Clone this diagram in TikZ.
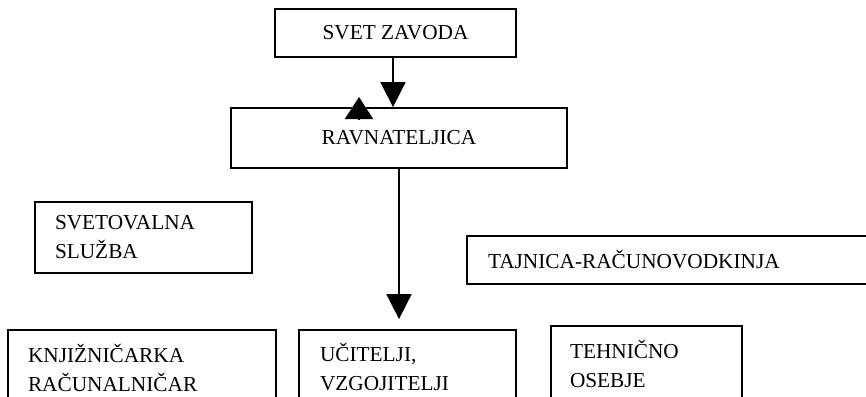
\documentclass[tikz,border=0pt]{standalone}
\usepackage{fontspec}
\setmainfont{Liberation Serif}
\usetikzlibrary{arrows.meta,calc}

\begin{document}
\begin{tikzpicture}[x=1pt, y=-1pt,
  box/.style={draw, line width=1.8pt, rectangle, inner sep=0pt, font=\fontsize{21.3}{29}\selectfont},
  lbox/.style={box, align=left},
  tip/.style={-{Triangle[length=25pt, width=25pt]}, line width=1.8pt, black}]
\useasboundingbox (0,0) rectangle (866,396);
\clip (0,0) rectangle (866,396);

\node [box, minimum width=241pt, minimum height=48pt] (svet) at (395.5, 33) {SVET ZAVODA};
\node [box, minimum width=336pt, minimum height=60pt] (rav) at (399, 138) {RAVNATELJICA};

\node [lbox, minimum width=217pt, minimum height=71pt, inner xsep=20pt, text width=177pt] (svetov) at (143.5, 237.5) {SVETOVALNA\\SLUŽBA};
\node [lbox, minimum width=413pt, minimum height=48pt, inner xsep=21pt, text width=371pt] (tajn) at (673.5, 260) {TAJNICA-RAČUNOVODKINJA};

\node [lbox, minimum width=268pt, minimum height=75pt, inner xsep=20pt, text width=228pt] (knjiz) at (142, 367.5) {KNJIŽNIČARKA\\RAČUNALNIČAR};
\node [lbox, minimum width=217pt, minimum height=75pt, inner xsep=21pt, text width=175pt] (ucit) at (407.5, 367.5) {UČITELJI,\\VZGOJITELJI};
\node [lbox, minimum width=191pt, minimum height=76pt, inner xsep=19pt, text width=153pt] (tehn) at (646.5, 364) {TEHNIČNO\\OSEBJE};

% arrows
\coordinate (ravtop) at ($(svet.south |- rav.north)+(-2.5,0)$);
\draw [tip] ($(svet.south)+(-2.5,0)$) -- (ravtop);
\coordinate (ucittip) at ($(ucit.north -| rav.south)+(0,-10)$);
\draw [tip] (rav.south) -- (ucittip);

% lone upward tip
\coordinate (upbase) at (359, 119);
\coordinate (uptop) at (359, 97);
\draw [-{Triangle[length=22pt, width=28pt]}, line width=1.8pt] (upbase) -- (uptop);
\end{tikzpicture}
\end{document}
